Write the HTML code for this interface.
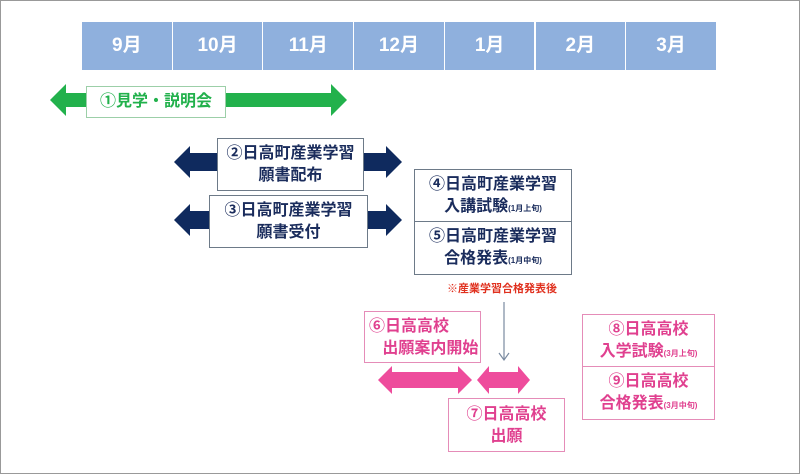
<!DOCTYPE html><html><head><meta charset="utf-8"><style>
body{margin:0;width:800px;height:474px;background:#fff;position:relative;overflow:hidden;font-family:"Liberation Sans","Noto Sans CJK JP",sans-serif;font-weight:bold}
.frame{position:absolute;left:0;top:0;width:798px;height:472px;border:1px solid #999}
.hd{position:absolute;top:22px;height:48px;background:#8fb0dd;color:#fff;font-size:19px;line-height:48px;text-align:center;width:89.7px}
.box{position:absolute;background:#fff;box-sizing:border-box;text-align:center;font-size:16px;line-height:22px}
.n{border:1.5px solid #6d7a88;color:#1a2c5c}
.p{border:1.5px solid #e58cb8;color:#e0408f}
small{font-size:8px}
svg{position:absolute;left:0;top:0}
</style></head><body>
<div class="frame"></div>
<div class="hd" style="left:82px">9月</div><div class="hd" style="left:172.7px">10月</div><div class="hd" style="left:263.4px">11月</div><div class="hd" style="left:354.1px">12月</div><div class="hd" style="left:444.8px">1月</div><div class="hd" style="left:535.5px">2月</div><div class="hd" style="left:626.2px">3月</div>
<svg width="800" height="474">
<polygon points="50,100 66,84 66,93 331,93 331,84 347,100 331,116 331,107 66,107 66,116" fill="#22b14c"/>
<polygon points="174,162 190,146 190,153 386,153 386,146 402,162 386,178 386,171 190,171 190,178" fill="#0f2a5e"/>
<polygon points="174,220 190,204 190,211 386,211 386,204 402,220 386,236 386,229 190,229 190,236" fill="#0f2a5e"/>
<polygon points="378,380 392,366 392,372 458,372 458,366 472,380 458,394 458,388 392,388 392,394" fill="#ee4c9c"/>
<polygon points="477,380 489,366 489,372 518,372 518,366 530,380 518,394 518,388 489,388 489,394" fill="#ee4c9c"/>
<line x1="504" y1="302" x2="504" y2="360" stroke="#7a8aa0" stroke-width="1.2"/>
<polyline points="499,353 504,360 509,353" fill="none" stroke="#7a8aa0" stroke-width="1.2"/>
</svg>
<div class="box" style="left:86px;top:86px;width:140px;height:32px;border:1.5px solid #9ccfa8;color:#22b14c;line-height:29px">①見学・説明会</div>
<div class="box n" style="left:217px;top:138px;width:147px;height:53px;padding-top:4px">②日高町産業学習<br>願書配布</div>
<div class="box n" style="left:209px;top:195px;width:159px;height:53px;padding-top:4px">③日高町産業学習<br>願書受付</div>
<div class="box n" style="left:414px;top:169px;width:158px;height:54px;padding-top:4px">④日高町産業学習<br>入講試験<small>(1月上旬)</small></div>
<div class="box n" style="left:414px;top:221px;width:158px;height:54px;padding-top:4px">⑤日高町産業学習<br>合格発表<small>(1月中旬)</small></div>
<div style="position:absolute;left:447px;top:280px;font-size:11px;color:#e0301e">※産業学習合格発表後</div>
<div class="box p" style="left:364px;top:311px;width:117px;height:52px;padding-top:4px;text-align:left;padding-left:4px">⑥日高高校<br>&nbsp;&nbsp;&nbsp;出願案内開始</div>
<div class="box p" style="left:448px;top:398px;width:117px;height:54px;padding-top:5px">⑦日高高校<br>出願</div>
<div class="box p" style="left:582px;top:314px;width:133px;height:54px;padding-top:4px">⑧日高高校<br>入学試験<small>(3月上旬)</small></div>
<div class="box p" style="left:582px;top:366px;width:133px;height:54px;padding-top:4px">⑨日高高校<br>合格発表<small>(3月中旬)</small></div>
</body></html>
